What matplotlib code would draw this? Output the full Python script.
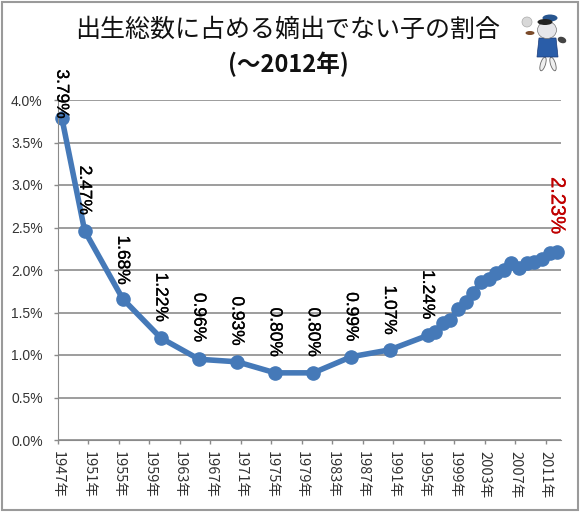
import matplotlib
matplotlib.use('Agg')
import matplotlib.pyplot as plt
import matplotlib.patheffects as pe
from matplotlib.patches import Rectangle, Ellipse, Polygon

years = [1947, 1950, 1955, 1960, 1965, 1970, 1975, 1980, 1985, 1990, 1995,
         1996, 1997, 1998, 1999, 2000, 2001, 2002, 2003, 2004, 2005, 2006,
         2007, 2008, 2009, 2010, 2011, 2012]
values = [3.79, 2.46, 1.66, 1.20, 0.95, 0.92, 0.79, 0.79, 0.98, 1.06, 1.23,
          1.27, 1.38, 1.41, 1.54, 1.62, 1.73, 1.86, 1.89, 1.96, 2.00, 2.08,
          2.02, 2.08, 2.10, 2.13, 2.20, 2.21]
labelled = {1947: '3.79%', 1950: '2.47%', 1955: '1.68%', 1960: '1.22%', 1965: '0.96%',
            1970: '0.93%', 1975: '0.80%', 1980: '0.80%', 1985: '0.99%', 1990: '1.07%',
            1995: '1.24%', 2012: '2.23%'}
tick_years = list(range(1947, 2012, 4))
y_ticks = [0, 0.5, 1, 1.5, 2, 2.5, 3, 3.5, 4]
title1 = '出生総数に占める嫡出でない子の割合'
title2 = '(～2012年)'

W, H = 580, 512
plt.rcParams['font.family'] = ['Noto Sans CJK JP', 'DejaVu Sans']
fig = plt.figure(figsize=(W/100, H/100), dpi=100)
fig.patches.append(Rectangle((1.5/W, 2/H), 576/W, 508/H, transform=fig.transFigure,
                             fill=False, ec='#9a9a9a', lw=1.5))
ax = fig.add_axes([58/W, 1-440/H, 503/W, 340/H])
ax.set_xlim(1946.5, 2012.5)
ax.set_ylim(0, 4)
ax.set_yticks(y_ticks)
ax.set_yticklabels([f'{v:.1f}%' for v in y_ticks], fontsize=10, color='#333333',
                   family=['Liberation Sans'])
ax.set_xticks([y - 0.5 for y in tick_years])
ax.set_xticklabels([f'{y}年' for y in tick_years], fontsize=10.5, rotation=-90, color='#333333')
ax.tick_params(axis='both', length=3, color='#8a8a8a', width=1)
ax.tick_params(axis='y', direction='out', pad=8)
ax.tick_params(axis='x', pad=5)
ax.grid(axis='y', color='#8c8c8c', lw=1.2)
ax.set_axisbelow(True)
for s in ['top', 'right']:
    ax.spines[s].set_visible(False)
for s in ['left', 'bottom']:
    ax.spines[s].set_color('#8a8a8a')
ax.plot(years, values, color='#4579b8', lw=4, marker='o', ms=9.5, mec='#4579b8', clip_on=False)

offsets = {1947: -1, 1950: 16, 1955: 14, 1960: 16, 1965: 17, 1970: 16, 1975: 16, 1980: 16,
           1985: 15, 1990: 15, 1995: 16, 2012: 18}
vals = dict(zip(years, values))
for yr, txt in labelled.items():
    red = yr == 2012
    ax.annotate(txt, (yr, vals[yr]), xytext=(0, offsets[yr]), textcoords='offset pixels',
                rotation=-90, ha='center', va='bottom', annotation_clip=False,
                color='#c00000' if red else 'black', fontsize=12.5 if not red else 14.5,
                family=['Liberation Sans'],
                path_effects=[pe.withStroke(linewidth=0.2, foreground='#c00000' if red else 'black')])

fig.text(288/W, 1-30/H, title1, ha='center', va='center', fontsize=18, color='#111111')
fig.text(288/W, 1-64/H, title2, ha='center', va='center', fontsize=17, fontweight='bold', color='#111111')

# small mascot decoration
def px(x, y):
    return (x/W, 1-y/H)
T = fig.transFigure
deco = [Ellipse(px(562, 40), 9/W, 6/H, angle=-30, fc='#444444', ec='none', transform=T),
        Ellipse(px(543, 64), 5/W, 14/H, angle=-15, fc='#eeeeee', ec='#666666', lw=.6, transform=T),
        Ellipse(px(553, 64), 5/W, 14/H, angle=15, fc='#eeeeee', ec='#666666', lw=.6, transform=T),
        Polygon([px(539, 38), px(556, 38), px(558, 57), px(537, 57)], fc='#2a5da8', ec='#1a3a78', lw=.5, transform=T),
        Ellipse(px(547, 30), 19/W, 17/H, fc='#e6e6ea', ec='#777777', lw=.5, transform=T),
        Ellipse(px(550, 18), 15/W, 7/H, fc='#27558f', ec='none', transform=T),
        Ellipse(px(545, 22), 15/W, 6/H, fc='#222222', ec='none', transform=T),
        Ellipse(px(530, 33), 9/W, 4/H, fc='#7a4a2a', ec='none', transform=T),
        Ellipse(px(527, 22), 10/W, 10/H, fc='#d8d8d8', ec='#aaaaaa', lw=.5, transform=T)]
for p in deco:
    fig.patches.append(p)
fig.savefig('out.png', dpi=100, facecolor='white')
